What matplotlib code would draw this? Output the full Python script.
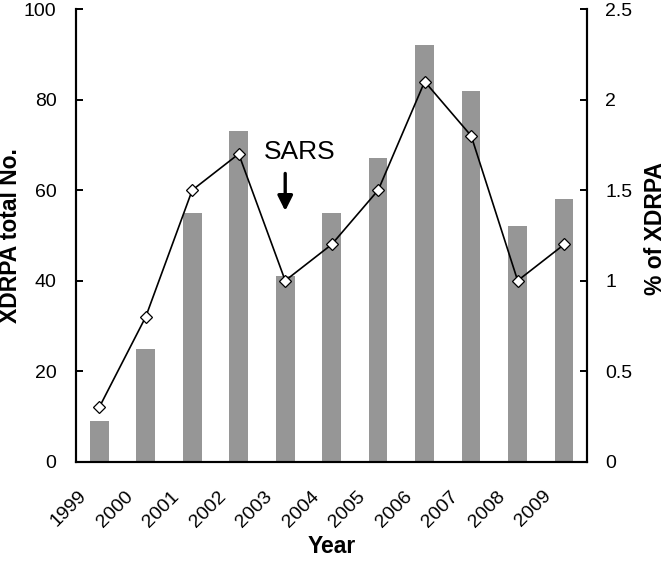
import matplotlib.pyplot as plt
import numpy as np

plt.rcParams['font.family'] = ['Liberation Sans', 'DejaVu Sans']

years = ['1999', '2000', '2001', '2002', '2003', '2004', '2005', '2006', '2007', '2008', '2009']
total_no = [9, 25, 55, 73, 41, 55, 67, 92, 82, 52, 58]
pct_xdrpa = [0.3, 0.8, 1.5, 1.7, 1.0, 1.2, 1.5, 2.1, 1.8, 1.0, 1.2]

x = np.arange(len(years))

fig = plt.figure(figsize=(6.66, 5.69), dpi=100)
ax = fig.add_axes([0.1141, 0.1886, 0.7679, 0.7954])
ax2 = ax.twinx()

ax.bar(x, total_no, width=0.4, color='#969696', zorder=1)
ax2.plot(x, pct_xdrpa, color='black', lw=1.2, marker='D', markersize=6,
         markerfacecolor='white', markeredgecolor='black', markeredgewidth=0.9)

ax.set_xlim(-0.5, len(years) - 0.5)
ax.set_ylim(0, 100)
ax2.set_ylim(0, 2.5)
ax.set_yticks([0, 20, 40, 60, 80, 100])
ax2.set_yticks([0, 0.5, 1, 1.5, 2, 2.5])
ax2.set_yticklabels(['0', '0.5', '1', '1.5', '2', '2.5'])

# year labels sit a bit left of each bar, rotated like Excel does
ax.set_xticks(x - 0.33)
ax.set_xticklabels(years, rotation=45, ha='right', va='center', rotation_mode='anchor')
ax.tick_params(axis='x', length=0, pad=23, labelsize=14)
ax.tick_params(axis='y', direction='in', length=5, width=1.4, pad=14, labelsize=14)
ax2.tick_params(axis='y', direction='in', length=5, width=1.4, pad=13, labelsize=14)

for a in (ax, ax2):
    a.spines['top'].set_visible(False)
    for s in ('left', 'right', 'bottom'):
        a.spines[s].set_linewidth(1.5)

ax.set_ylabel('XDRPA total No.', fontsize=16.5, fontweight='bold')
ax.yaxis.set_label_coords(-0.106, 0.5)
ax2.set_ylabel('% of XDRPA', fontsize=16.5, fontweight='bold')
ax2.yaxis.set_label_coords(1.11, 0.515)
ax.set_xlabel('Year', fontsize=16.5, fontweight='bold')
ax.xaxis.set_label_coords(0.5, -0.163)

ax.text(4.32, 68.5, 'SARS', fontsize=19, ha='center', va='center')
ax.annotate('', xy=(4, 54.8), xytext=(4, 64.3),
            arrowprops=dict(arrowstyle='-|>,head_length=0.9,head_width=0.45', color='black', lw=2.4))

fig.savefig('out.png', dpi=100)
